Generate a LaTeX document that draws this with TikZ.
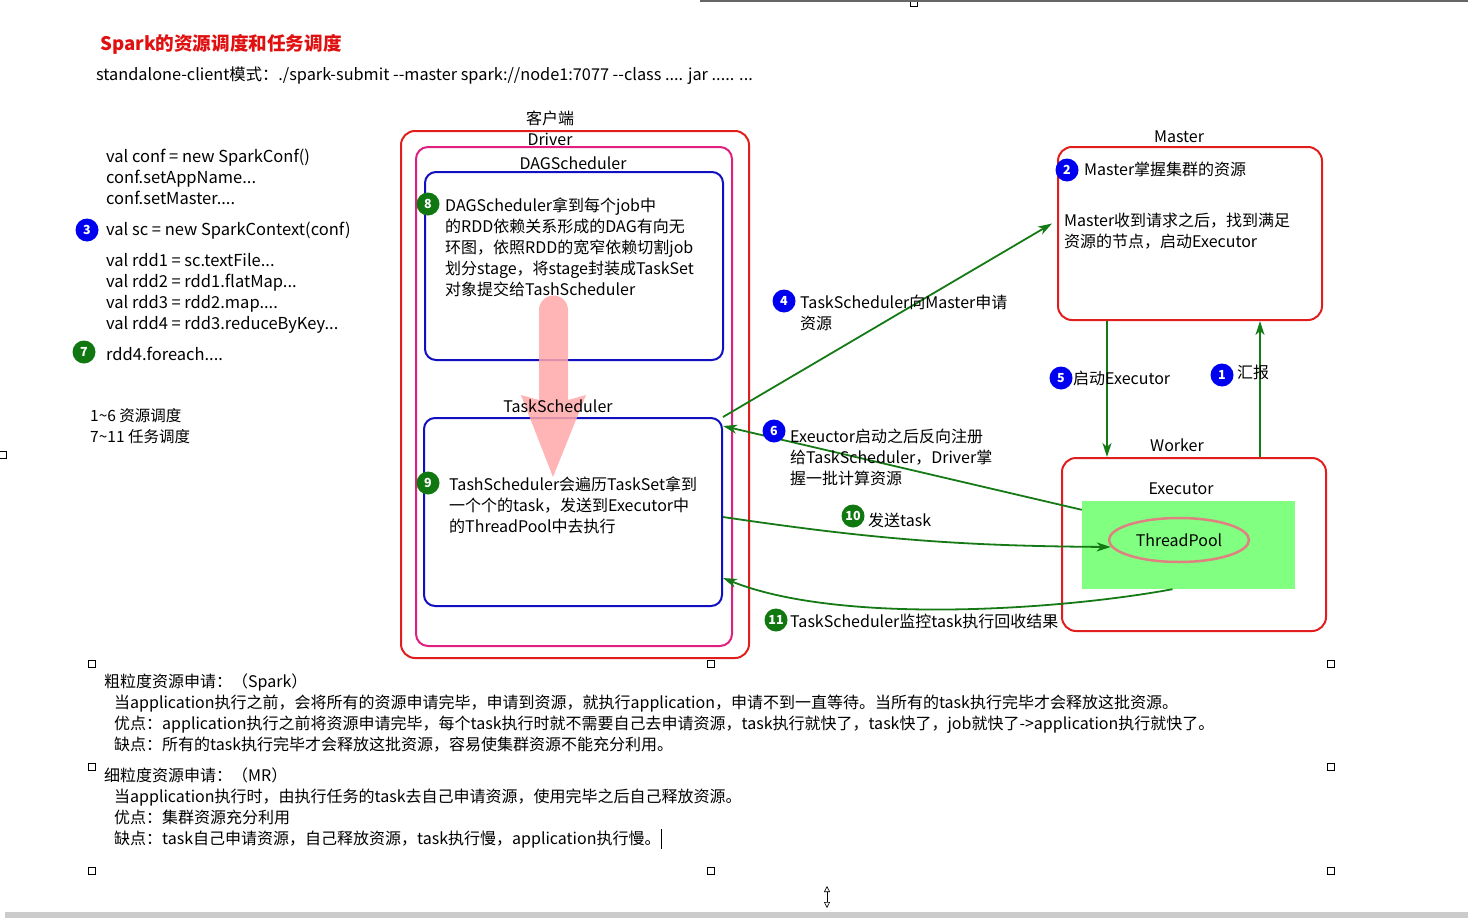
\documentclass[tikz,border=0pt]{standalone}
\usepackage{fontspec}
\setmainfont{Noto Sans CJK SC}
\usetikzlibrary{arrows.meta,shapes.geometric,calc}

\definecolor{boxred}{HTML}{E01E1E}
\definecolor{boxpink}{HTML}{E0207F}
\definecolor{boxblue}{HTML}{1010C0}
\definecolor{arrgreen}{HTML}{157A15}
\definecolor{badgeblue}{HTML}{0000F0}
\definecolor{badgegreen}{HTML}{117711}
\definecolor{poolgreen}{HTML}{80FF80}
\definecolor{poolring}{HTML}{E08080}
\definecolor{bigpink}{HTML}{FFA8A8}
\definecolor{titlered}{HTML}{E01010}

% two plain hyphens, kept apart from the en-dash ligature
\newcommand{\twohy}{-{}-}

\begin{document}
\begin{tikzpicture}[x=1pt,y=-1pt,
  txt/.style={anchor=base west, inner sep=0pt, align=left,
    font=\fontsize{16}{21}\selectfont},
  lbl/.style={inner sep=0pt, font=\fontsize{16}{21}\selectfont},
  redbox/.style={draw=boxred, line width=2pt, rounded corners=14pt},
  pinkbox/.style={draw=boxpink, line width=2pt, rounded corners=12pt},
  bluebox/.style={draw=boxblue, line width=2pt, rounded corners=11pt},
  badge/.style={circle, inner sep=0pt, minimum size=23pt, text=white,
    font=\fontsize{12.5}{12.5}\selectfont\bfseries},
  bb/.style={badge, fill=badgeblue},
  bg/.style={badge, fill=badgegreen},
  flow/.style={draw=arrgreen, line width=1.8pt,
    -{Stealth[length=14pt,width=9pt,inset=4pt]}},
  handle/.style={draw=black, fill=white, line width=0.8pt,
    minimum size=7pt, inner sep=0pt}
]
\useasboundingbox (0,0) rectangle (1468,918);

% heading (multi-line nodes are anchored at the baseline of their last line)
\node[anchor=base west, inner sep=0pt, text=titlered,
  font=\fontsize{18.6}{22}\selectfont\bfseries] (title) at (100,50)
  {Spark的资源调度和任务调度};
\node[txt, font=\fontsize{16.3}{21}\selectfont] (cmd) at (96,80)
  {standalone-client模式：./spark-submit \twohy master spark://node1:7077 \twohy class .... jar ..... ...};

% application code
\node[txt, font=\fontsize{16.5}{21}\selectfont] (code1) at (106,204)
  {val conf = new SparkConf()\\conf.setAppName...\\conf.setMaster....};
\node[txt, font=\fontsize{16.5}{21}\selectfont] (code2) at (106,235) {val sc = new SparkContext(conf)};
\node[bb] (b3) at (87,230) {3};
\node[txt, font=\fontsize{16.5}{21}\selectfont] (code3) at (106,329)
  {val rdd1 = sc.textFile...\\val rdd2 = rdd1.flatMap...\\val rdd3 = rdd2.map....\\val rdd4 = rdd3.reduceByKey...};
\node[txt, font=\fontsize{16.5}{21}\selectfont] (code4) at (106,360) {rdd4.foreach....};
\node[bg] (b7) at (84,352) {7};
\node[anchor=base west, inner sep=0pt, align=left,
  font=\fontsize{15.5}{21}\selectfont] (legend) at (90,442)
  {1\textasciitilde6 资源调度\\7\textasciitilde11 任务调度};

% client side: Driver with its two schedulers
\node[lbl] (client) at (550,118) {客户端};
\node[redbox, minimum width=348pt, minimum height=527pt] (driver) at (575,394.5) {};
\node[lbl] (driverlbl) at (550,139) {Driver};
\node[pinkbox, minimum width=316pt, minimum height=499pt] (inner) at (574,396.5) {};
\node[lbl] (daglbl) at (573,163) {DAGScheduler};
\node[bluebox, minimum width=298pt, minimum height=188pt] (dag) at (574,266) {};
\node[bluebox, minimum width=298pt, minimum height=188pt] (ts) at (573,512) {};

% hand-off from DAGScheduler to TaskScheduler
\fill[bigpink, opacity=0.85] (539,400) -- (539,310)
  arc[start angle=180, end angle=0, radius=14.5pt]
  -- (568,400) -- (586,395) -- (553,477) -- (521,395) -- cycle;
\node[lbl] (tslbl) at (558,406) {TaskScheduler};

\node[bg] (b8) at (428,204) {8};
\node[txt] (dagtxt) at (445,295)
  {DAGScheduler拿到每个job中\\的RDD依赖关系形成的DAG有向无\\环图，依照RDD的宽窄依赖切割job\\划分stage，将stage封装成TaskSet\\对象提交给TashScheduler};
\node[bg] (b9) at (428,483) {9};
\node[txt] (tstxt) at (449,532)
  {TashScheduler会遍历TaskSet拿到\\一个个的task，发送到Executor中\\的ThreadPool中去执行};

% cluster side: Master and Worker
\node[lbl] (masterlbl) at (1179,137) {Master};
\node[redbox, minimum width=264pt, minimum height=173pt] (master) at (1190,233.5) {};
\node[bb] (b2) at (1067,170) {2};
\node[txt] (mtxt1) at (1084,175) {Master掌握集群的资源};
\node[txt] (mtxt2) at (1064,247) {Master收到请求之后，找到满足\\资源的节点，启动Executor};

\node[lbl] (workerlbl) at (1177,445) {Worker};
\node[redbox, minimum width=264pt, minimum height=173pt] (worker) at (1194,544.5) {};
\node[lbl] (execlbl) at (1181,489) {Executor};
\node[fill=poolgreen, minimum width=213pt, minimum height=88pt, inner sep=0pt] (pool) at (1188.5,545) {};
\node[ellipse, draw=poolring, line width=2.5pt, fill=poolgreen,
  minimum width=140pt, minimum height=44pt, inner sep=0pt,
  font=\fontsize{16}{21}\selectfont] (ring) at (1179,540) {ThreadPool};

% message flow
\draw[flow] (ts.north east) -- ([xshift=-5pt,yshift=10pt]master.west);
\node[bb] (b4) at (784,301) {4};
\node[txt] (t4) at (800,329) {TaskScheduler向Master申请\\资源};

\coordinate (m5) at ([xshift=-83pt]master.south);
\draw[flow] (m5) -- (m5 |- worker.north);
\node[bb] (b5) at (1061,378) {5};
\node[txt] (t5) at (1073,384) {启动Executor};

\coordinate (w1) at ([xshift=66pt]worker.north);
\draw[flow] (w1) -- (w1 |- master.south);
\node[bb] (b1) at (1222,375) {1};
\node[txt] (t1) at (1237,378) {汇报};

\draw[flow] ([yshift=-9pt]pool.north west) -- ([yshift=-9pt]ts.north east);
\node[bb] (b6) at (774,431) {6};
\node[txt] (t6) at (790,484)
  {Exeuctor启动之后反向注册\\给TaskScheduler，Driver掌\\握一批计算资源};

\draw[flow] ([yshift=-5pt]ts.east) to[bend right=4] ([xshift=3pt,yshift=-7pt]ring.west);
\node[bg] (b10) at (853,516) {10};
\node[txt] (t10) at (868,526) {发送task};

\draw[flow] ([xshift=-16pt]pool.south) .. controls (1060,610) and (840,625) .. ([yshift=-66pt]ts.east);
\node[bg] (b11) at (776,620) {11};
\node[txt] (t11) at (790,627) {TaskScheduler监控task执行回收结果};

% resource request notes
\node[txt] (coarse) at (104,687) {粗粒度资源申请：（Spark）};
\node[txt] (coarse1) at (114,750)
  {当application执行之前，会将所有的资源申请完毕，申请到资源，就执行application，申请不到一直等待。当所有的task执行完毕才会释放这批资源。\\
   优点：application执行之前将资源申请完毕，每个task执行时就不需要自己去申请资源，task执行就快了，task快了，job就快了->application执行就快了。\\
   缺点：所有的task执行完毕才会释放这批资源，容易使集群资源不能充分利用。};
\node[txt] (fine) at (104,781) {细粒度资源申请：（MR）};
\node[txt] (fine1) at (114,844)
  {当application执行时，由执行任务的task去自己申请资源，使用完毕之后自己释放资源。\\
   优点：集群资源充分利用\\
   缺点：task自己申请资源，自己释放资源，task执行慢，application执行慢。};
\draw[line width=1pt] (661,829) -- (661,849);

% editor frame: selection handles, resize cursor, borders
\foreach \hx/\hy in {92/664, 711/664, 1331/664, 92/767, 1331/767,
                     92/871, 711/871, 1331/871, 914/3, 3/455}
  \node[handle] at (\hx,\hy) {};
\draw[black!60, line width=1.5pt] (700,0.75) -- (1468,0.75);
\fill[black!20] (5,912) rectangle (1468,918);
\draw[line width=0.6pt, {Triangle[open,length=6pt,width=6pt]}-{Triangle[open,length=6pt,width=6pt]}]
  (827,886) -- (827,908);
\end{tikzpicture}
\end{document}
